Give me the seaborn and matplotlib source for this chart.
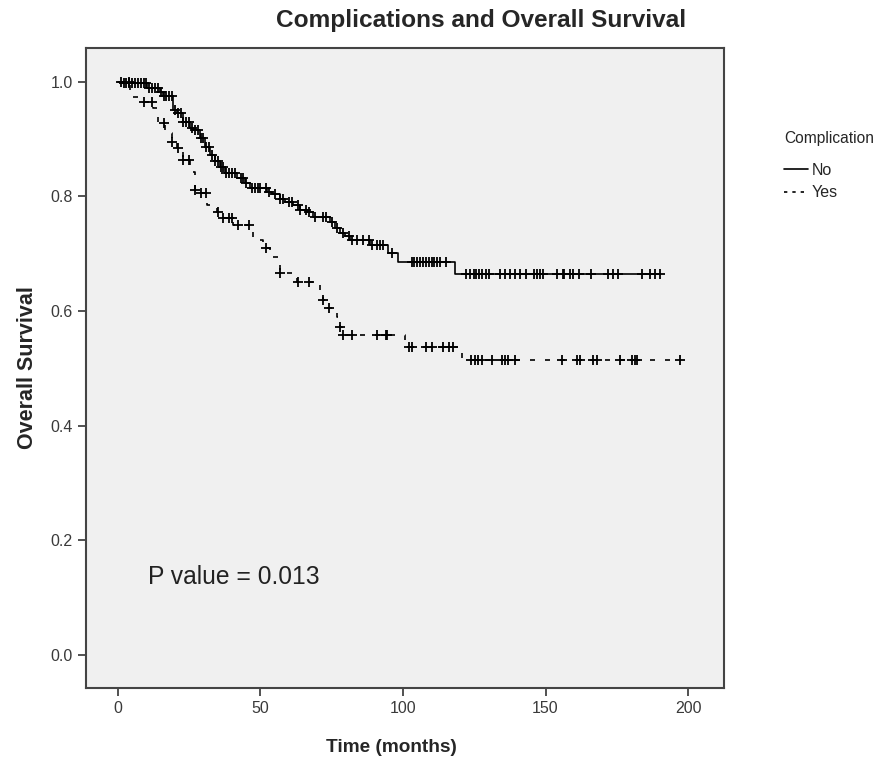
import numpy as np
import pandas as pd
import matplotlib
matplotlib.use("Agg")
import matplotlib.pyplot as plt
import seaborn as sns
from matplotlib.lines import Line2D

# ---- data ----
no_times = [0, 1.8, 10.2, 14.7, 15.8, 19.3, 20.7, 22.8, 25.3, 26.3, 28.8, 30.5, 32.3,
            34.0, 35.8, 37.5, 41.8, 44.6, 46.3, 52.3, 54.0, 56.8, 58.6, 61.4, 63.9,
            66.3, 68.4, 74.4, 76.1, 77.9, 79.6, 81.4, 88.4, 94.7, 94.8, 98.2, 118.2]
no_surv = [1.0, 0.998, 0.990, 0.983, 0.976, 0.951, 0.946, 0.930, 0.920, 0.916, 0.902,
           0.887, 0.873, 0.862, 0.852, 0.841, 0.832, 0.824, 0.815, 0.808, 0.805, 0.796,
           0.791, 0.785, 0.777, 0.773, 0.764, 0.756, 0.745, 0.736, 0.731, 0.724, 0.716,
           0.712, 0.702, 0.686, 0.665]
no_censor = [1, 2, 3, 4, 5, 6, 7, 8, 9, 10, 11, 12, 13, 14, 15, 16, 17, 18, 19, 20, 21,
             22, 23, 24, 25, 26, 27, 28, 29, 30, 31, 32, 33, 34, 35, 36, 37, 38, 39, 40,
             41, 43, 44, 45, 47, 48, 49, 50, 52, 53, 55, 57, 58, 60, 61, 63, 64, 66, 67,
             69, 72, 73, 75, 77, 79, 81, 82, 84, 86, 88, 89, 91, 92, 93, 96,
             103, 104, 105, 106, 107, 108, 109, 110, 111, 112, 113, 115,
             122, 123.5, 125, 125.6, 126.7, 127.7, 129.1, 130, 134, 135.8, 137.5, 139.3,
             141, 143, 146, 147, 148, 149, 154, 156, 156.5, 158.6, 159.6, 161.8, 166,
             172, 173.7, 175.4, 184, 186.7, 188.4, 190.2]

yes_times = [0, 4.2, 8.8, 12.3, 14.0, 16.5, 18.9, 20.7, 22.8, 25.3, 27.0, 28.8, 31.2,
             34.7, 36.8, 40.4, 47.4, 50.9, 53.3, 56.8, 62.8, 70.9, 71.9, 73.7, 76.8,
             77.9, 78.5, 100.7, 120.7]
yes_surv = [1.0, 0.974, 0.965, 0.955, 0.928, 0.911, 0.895, 0.885, 0.864, 0.843, 0.812,
            0.806, 0.785, 0.773, 0.763, 0.750, 0.724, 0.710, 0.695, 0.667, 0.651, 0.637,
            0.620, 0.606, 0.590, 0.572, 0.558, 0.537, 0.515]
yes_censor = [4, 9, 12, 16, 19, 21, 23, 25, 27, 29, 31, 35, 37, 39, 40, 42, 46, 52, 57,
              63, 67, 72, 74, 78, 79, 82, 91, 94, 94.5, 102, 103, 108, 110, 114, 116,
              117.6, 124, 125.3, 126.3, 127.7, 131.2, 134.7, 135.8, 136.8, 139.3, 155.8,
              161, 162.1, 166.7, 168, 176.1, 180.4, 181.4, 182.1, 197.2]

groups = ["No", "Yes"]
x_ticks = [0, 50, 100, 150, 200]
y_ticks = [0.0, 0.2, 0.4, 0.6, 0.8, 1.0]
p_text = "P value = 0.013"


def curve_frame(times, surv, censor):
    t = list(times) + [max(censor)]
    s = list(surv) + [surv[-1]]
    return pd.DataFrame({"t": t, "s": s})


def censor_frame(times, surv, censor):
    idx = np.searchsorted(np.array(times), np.array(censor), side="right") - 1
    return pd.DataFrame({"t": censor, "s": np.array(surv)[idx]})


sns.set_theme(style="ticks")
plt.rcParams["font.family"] = ["Liberation Sans", "DejaVu Sans"]

fig = plt.figure(figsize=(8.81, 7.61), dpi=100)
ax = fig.add_axes([86 / 881, 1 - 688 / 761, (724 - 86) / 881, (688 - 48) / 761])
ax.set_facecolor("#f0f0f0")

no_curve = curve_frame(no_times, no_surv, no_censor)
yes_curve = curve_frame(yes_times, yes_surv, yes_censor)
no_c = censor_frame(no_times, no_surv, no_censor)
yes_c = censor_frame(yes_times, yes_surv, yes_censor)

sns.lineplot(data=no_curve, x="t", y="s", estimator=None, sort=False,
             drawstyle="steps-post", color="black", lw=1.2, ax=ax)
sns.lineplot(data=yes_curve, x="t", y="s", estimator=None, sort=False,
             drawstyle="steps-post", color="black", lw=1.2,
             linestyle=(0, (3, 6)), ax=ax)
sns.scatterplot(data=no_c, x="t", y="s", marker="+", s=60, color="black",
                linewidth=1.3, ax=ax, zorder=3)
sns.scatterplot(data=yes_c, x="t", y="s", marker="+", s=60, color="black",
                linewidth=1.3, ax=ax, zorder=3)

ax.set_xlim(-11.2, 212.6)
ax.set_ylim(-0.058, 1.059)
ax.set_xticks(x_ticks)
ax.set_xticklabels([str(v) for v in x_ticks])
ax.set_yticks(y_ticks)
ax.set_yticklabels([f"{v:.1f}" for v in y_ticks])
ax.tick_params(axis="both", direction="out", length=6, width=1.2, color="#333333",
               labelsize=11.5, labelcolor="#3a3a3a")
for sp in ax.spines.values():
    sp.set_color("#444444")
    sp.set_linewidth(1.5)

ax.set_xlabel("Time (months)", fontsize=13.7, fontweight="bold")
ax.xaxis.set_label_coords((391 - 86) / 638, -51 / 640)
ax.set_ylabel("Overall Survival", fontsize=15.5, fontweight="bold", labelpad=9)

ax.text(10.5, 0.136, p_text, fontsize=17.7, va="center", ha="left", color="#222222")

fig.text(481 / 881, 1 - 21 / 761, "Complications and Overall Survival",
         ha="center", va="center", fontsize=17.6, fontweight="bold")

handles = [Line2D([], [], color="black", lw=1.2),
           Line2D([], [], color="black", lw=1.2, linestyle=(0, (2, 3)))]
leg = fig.legend(handles, groups, title="Complication", loc="upper left",
                 bbox_to_anchor=(778 / 881, 1 - 125 / 761), frameon=False,
                 fontsize=11.5, title_fontsize=11.2, handlelength=1.5,
                 handletextpad=0.2, labelspacing=0.45, borderaxespad=0)
leg._legend_box.align = "left"
leg._legend_box.sep = 12

fig.savefig("out.png", dpi=100)
